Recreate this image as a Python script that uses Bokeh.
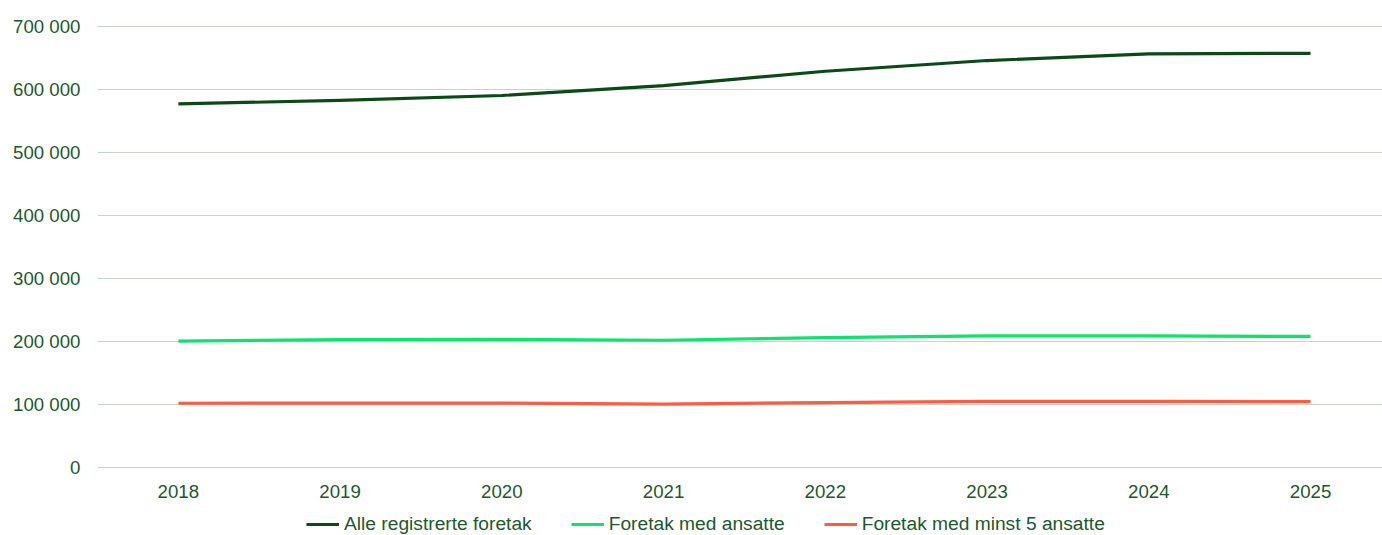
from bokeh.plotting import figure
from bokeh.models import FixedTicker, Legend, LegendItem, Range1d
from bokeh.layouts import column
from bokeh.embed import file_html
from bokeh.resources import INLINE

years = [2018, 2019, 2020, 2021, 2022, 2023, 2024, 2025]
alle = [577300, 582600, 590500, 606300, 629000, 646000, 656500, 657500]
med_ansatte = [200500, 203000, 203500, 202000, 206000, 209000, 209000, 208000]
minst5 = [102000, 102300, 102200, 100500, 103000, 105000, 105000, 104500]

series_names = ["Alle registrerte foretak", "Foretak med ansatte", "Foretak med minst 5 ansatte"]
series_colors = ["#0a4a17", "#0be56e", "#ff5a42"]

y_ticks = [0, 100000, 200000, 300000, 400000, 500000, 600000, 700000]
y_tick_labels = ["0", "100 000", "200 000", "300 000", "400 000", "500 000", "600 000", "700 000"]

TEXT = "#1a5a2a"
FONT = "Liberation Sans"
FS = "18.67px"
series = [alle, med_ansatte, minst5]

p = figure(width=1382, height=500, output_backend="svg", toolbar_location=None,
           x_range=Range1d(2017.5, 2025.445), y_range=Range1d(-1600, 701600),
           min_border_left=97, min_border_right=0, min_border_top=25, min_border_bottom=31)
p.outline_line_color = None
p.background_fill_color = "white"
p.border_fill_color = "white"

for vals, color in zip(series, series_colors):
    p.line(years, vals, line_color=color, line_width=3.2, line_join="round", line_cap="butt")

p.xaxis.ticker = FixedTicker(ticks=years)
p.yaxis.ticker = FixedTicker(ticks=y_ticks)
p.yaxis.major_label_overrides = {t: l for t, l in zip(y_ticks, y_tick_labels)}
for ax in (p.xaxis, p.yaxis):
    ax.axis_line_color = None
    ax.major_tick_line_color = None
    ax.minor_tick_line_color = None
    ax.major_label_text_color = TEXT
    ax.major_label_text_font = FONT
    ax.major_label_text_font_size = FS
p.yaxis.major_label_standoff = 11
p.xaxis.major_label_standoff = 10

p.xgrid.grid_line_color = None
p.ygrid.grid_line_color = "#c5d3c8"
p.ygrid.grid_line_width = 1

# legend strip (same series, drawn out of view so only the legend shows)
lf = figure(width=1382, height=35, output_backend="svg", toolbar_location=None,
            x_axis_type=None, y_axis_type=None,
            x_range=Range1d(2017.5, 2025.445), y_range=Range1d(0, 1),
            min_border_left=97, min_border_right=0, min_border_top=0, min_border_bottom=0)
lf.outline_line_color = None
lf.xgrid.grid_line_color = None
lf.ygrid.grid_line_color = None
lrs = []
for vals, color in zip(series, series_colors):
    lrs.append(lf.line(years, vals, line_color=color, line_width=3.2))

legend = Legend(items=[LegendItem(label=n, renderers=[r]) for n, r in zip(series_names, lrs)],
                orientation="horizontal", location=(209, 0))
legend.padding = 0
legend.margin = 0
legend.spacing = 39
legend.glyph_width = 33
legend.glyph_height = 18
legend.label_height = 18
legend.label_standoff = 5
legend.border_line_color = None
legend.background_fill_alpha = 0
legend.label_text_color = TEXT
legend.label_text_font = FONT
legend.label_text_font_size = "19.2px"
lf.add_layout(legend, "center")

layout = column(p, lf, spacing=0)
open("out.html", "w").write(file_html(layout, INLINE))
